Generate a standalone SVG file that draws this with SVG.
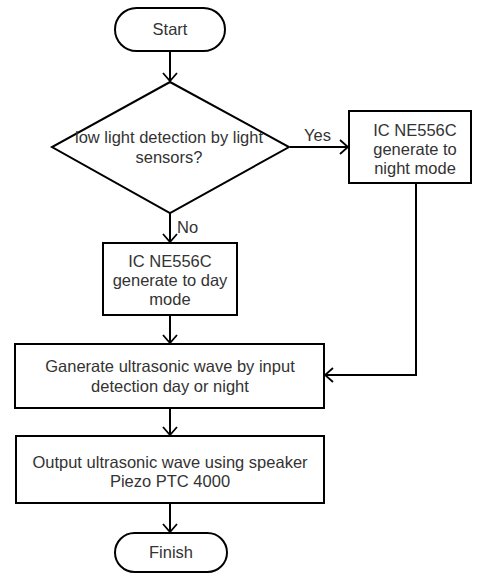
<svg xmlns="http://www.w3.org/2000/svg" width="480" height="575" viewBox="0 0 480 575">
<defs>
<marker id="arr" viewBox="0 0 10 16" refX="9" refY="8" markerWidth="5" markerHeight="8" orient="auto" markerUnits="strokeWidth">
<path d="M1,1 L9,8 L1,15" fill="none" stroke="#000" stroke-width="1.8"/>
</marker>
<style>
.s{fill:#fff;stroke:#000;stroke-width:2}
.t{font-family:"Liberation Sans",Arial,sans-serif;font-size:16.5px;fill:#333;text-anchor:middle}
.l{font-family:"Liberation Sans",Arial,sans-serif;font-size:16.5px;fill:#333}
.c{fill:none;stroke:#000;stroke-width:2;marker-end:url(#arr)}
</style>
</defs>
<rect width="480" height="575" fill="#fff"/>
<g id="connectors">
<path class="c" d="M170,51 V81"/>
<path class="c" d="M290,147 H348"/>
<path class="c" d="M170,213 V242"/>
<path class="c" d="M170,315 V343"/>
<path class="c" d="M416,183 V375 H325"/>
<path class="c" d="M170,408 V435"/>
<path class="c" d="M170,503 V532"/>
<text class="l" x="304" y="141">Yes</text>
<text class="l" x="177" y="233">No</text>
</g>
<g id="start">
<rect class="s" x="115" y="8" width="110" height="43" rx="21.5"/>
<text class="t" x="170" y="35">Start</text>
</g>
<g id="decision">
<polygon class="s" points="170,82 289,147 170,213 52,147"/>
<text class="t" x="169" y="143">low light detection by light</text>
<text class="t" x="169" y="163">sensors?</text>
</g>
<g id="night">
<rect class="s" x="349" y="111" width="122" height="72"/>
<text class="t" x="415" y="136">IC NE556C</text>
<text class="t" x="415" y="155">generate to</text>
<text class="t" x="415" y="174">night mode</text>
</g>
<g id="day">
<rect class="s" x="103" y="243" width="134" height="72"/>
<text class="t" x="170" y="267">IC NE556C</text>
<text class="t" x="170" y="286">generate to day</text>
<text class="t" x="170" y="305">mode</text>
</g>
<g id="generate">
<rect class="s" x="15" y="344" width="309" height="64"/>
<text class="t" x="170" y="372">Ganerate ultrasonic wave by input</text>
<text class="t" x="170" y="392">detection day or night</text>
</g>
<g id="output">
<rect class="s" x="16" y="436" width="308" height="67"/>
<text class="t" x="170" y="468">Output ultrasonic wave using speaker</text>
<text class="t" x="170" y="487">Piezo PTC 4000</text>
</g>
<g id="finish">
<rect class="s" x="115" y="533" width="112" height="39" rx="19.5"/>
<text class="t" x="171" y="558">Finish</text>
</g>
</svg>
